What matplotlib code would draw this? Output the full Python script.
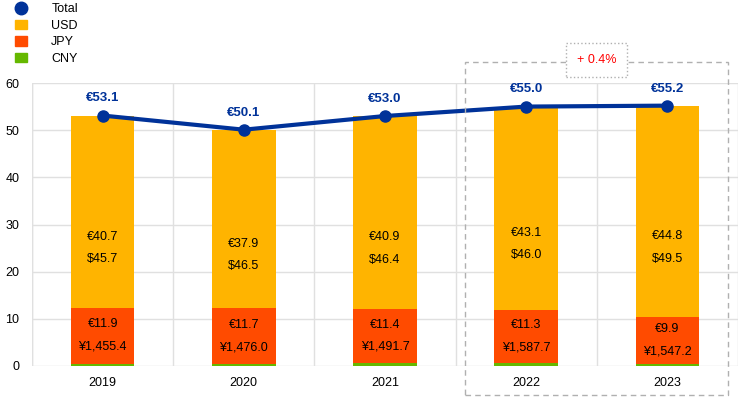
import numpy as np
import matplotlib.pyplot as plt
from matplotlib.lines import Line2D
from matplotlib.patches import Patch, Rectangle

plt.rcParams['font.family'] = ['Liberation Sans', 'DejaVu Sans']

# datos
years = ['2019', '2020', '2021', '2022', '2023']
total = [53.1, 50.1, 53.0, 55.0, 55.2]
usd_eur = [40.7, 37.9, 40.9, 43.1, 44.8]
usd_usd = [45.7, 46.5, 46.4, 46.0, 49.5]
jpy_eur = [11.9, 11.7, 11.4, 11.3, 9.9]
jpy_jpy = [1455.4, 1476.0, 1491.7, 1587.7, 1547.2]
cny_eur = [0.5, 0.5, 0.7, 0.6, 0.5]
change_label = '+ 0.4%'

c_usd = '#FFB400'
c_jpy = '#FF4B00'
c_cny = '#65B800'
c_tot = '#003299'

fig = plt.figure(figsize=(7.44, 3.97), dpi=100)
ax = fig.add_axes([32/744, 31/397, 706/744, 283/397])

x = np.arange(len(years))
w = 0.45
cny = np.array(cny_eur)
jpy = np.array(jpy_eur)
usd = np.array(usd_eur)

ax.bar(x, cny, w, color=c_cny, zorder=2)
ax.bar(x, jpy, w, bottom=cny, color=c_jpy, zorder=2)
ax.bar(x, usd, w, bottom=cny + jpy, color=c_usd, zorder=2)
ax.plot(x, total, color=c_tot, lw=3, marker='o', ms=8, zorder=4)

for i in range(len(years)):
    ax.annotate('€%.1f' % total[i], (x[i], total[i]), xytext=(0, 8), textcoords='offset points',
                ha='center', va='bottom', color=c_tot, fontsize=9.5, fontweight='bold')
    cu = cny[i] + jpy[i] + usd[i] / 2
    ax.annotate('€%.1f' % usd_eur[i], (x[i], cu), xytext=(0, -18), textcoords='offset points',
                ha='center', va='center', fontsize=9)
    ax.annotate('$%.1f' % usd_usd[i], (x[i], cu), xytext=(0, -34), textcoords='offset points',
                ha='center', va='center', fontsize=9)
    cj = cny[i] + jpy[i] / 2
    ax.annotate('€%.1f' % jpy_eur[i], (x[i], cj), xytext=(0, 8), textcoords='offset points',
                ha='center', va='center', fontsize=9)
    ax.annotate('¥{:,.1f}'.format(jpy_jpy[i]), (x[i], cj), xytext=(0, -8), textcoords='offset points',
                ha='center', va='center', fontsize=9)

ax.set_xlim(-0.5, len(years) - 0.5)
ax.set_ylim(0, 60)
ax.set_yticks(range(0, 61, 10))
ax.set_xticks(x)
ax.set_xticklabels(years)
ax.set_xticks(np.arange(-0.5, len(years), 1), minor=True)
ax.tick_params(axis='both', which='both', length=0, labelsize=9)
ax.tick_params(axis='x', pad=8)
ax.tick_params(axis='y', pad=9)
ax.grid(axis='y', color='#e0e0e0', lw=1, zorder=0)
ax.grid(axis='x', which='minor', color='#e0e0e0', lw=1, zorder=0)
ax.axvline(-0.5, color='#e0e0e0', lw=1, zorder=0)
for s in ax.spines.values():
    s.set_visible(False)

# recuadro punteado 2022-2023
ax.add_patch(Rectangle((2.564, -6.15), 1.865, 70.55, fill=False, ls=(0, (4, 3)),
                       ec='#b0b0b0', lw=1, clip_on=False, zorder=5))
ax.text(3.5, 64.9, change_label, ha='center', va='center', color='#ff0000', fontsize=9,
        bbox=dict(boxstyle='square,pad=0.85', fc='white', ec='#b0b0b0', ls=':', lw=1),
        zorder=6, clip_on=False)

handles = [Line2D([], [], color=c_tot, marker='o', ls='none', ms=9),
           Patch(color=c_usd), Patch(color=c_jpy), Patch(color=c_cny)]
fig.legend(handles, ['Total', 'USD', 'JPY', 'CNY'], loc='upper left',
           bbox_to_anchor=(0.005, 1.02), frameon=False, fontsize=9,
           handlelength=1.0, handleheight=0.8, handletextpad=1.9, labelspacing=0.35)

fig.savefig('out.png', dpi=100)
